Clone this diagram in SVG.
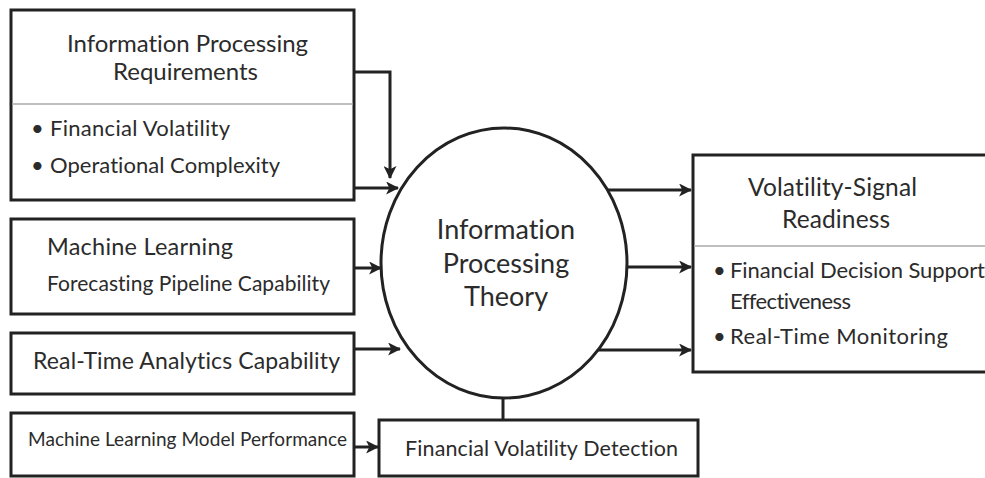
<svg xmlns="http://www.w3.org/2000/svg" width="985" height="478" viewBox="0 0 985 478">
  <defs>
    <marker id="arrow" viewBox="0 0 12 12" refX="11" refY="6" markerWidth="13" markerHeight="13" markerUnits="userSpaceOnUse" orient="auto">
      <path d="M0,0 L12,6 L0,12 L3,6 Z" fill="#222"/>
    </marker>
    <style>
      .box { fill: #fff; stroke: #222; stroke-width: 3; }
      .div { stroke: #aaa; stroke-width: 1.5; }
      .conn { fill: none; stroke: #222; stroke-width: 3; }
      .arr { fill: none; stroke: #222; stroke-width: 3; marker-end: url(#arrow); }
      text { font-family: Lato, "Liberation Sans", sans-serif; fill: #2b2b2b; font-variant-ligatures: none; }
      .c { text-anchor: middle; }
    </style>
  </defs>
  <rect width="985" height="478" fill="#fff"/>

  <g id="connectors">
    <path class="arr" d="M354,72 H390 V178"/>
    <path class="arr" d="M354,188 H398"/>
    <path class="arr" d="M354,268 H381"/>
    <path class="arr" d="M354,349 H400"/>
    <path class="arr" d="M354,447 H378"/>
    <path class="conn" d="M503,397 V420"/>
    <path class="arr" d="M606,190 H691"/>
    <path class="arr" d="M627,267 H691"/>
    <path class="arr" d="M598,350 H691"/>
  </g>

  <g id="info-requirements">
    <rect class="box" x="11" y="10" width="343" height="190"/>
    <line class="div" x1="12" y1="104" x2="353" y2="104"/>
    <g font-size="24">
      <text x="67" y="52" textLength="241">Information Processing</text>
      <text x="113" y="80" textLength="145">Requirements</text>
    </g>
    <g font-size="22">
      <text x="31" y="136">•</text>
      <text x="50" y="136" textLength="180">Financial Volatility</text>
      <text x="31" y="173">•</text>
      <text x="50" y="173" textLength="230">Operational Complexity</text>
    </g>
  </g>

  <g id="ml-pipeline">
    <rect class="box" x="11" y="219" width="343" height="95"/>
    <text x="47" y="255" font-size="23.5" textLength="186">Machine Learning</text>
    <text x="47" y="291" font-size="21" textLength="283">Forecasting Pipeline Capability</text>
  </g>

  <g id="realtime-analytics">
    <rect class="box" x="11" y="333" width="343" height="61"/>
    <text x="33" y="369" font-size="23" textLength="307">Real-Time Analytics Capability</text>
  </g>

  <g id="ml-performance">
    <rect class="box" x="11" y="413" width="343" height="63"/>
    <text x="28" y="446" font-size="19" textLength="319">Machine Learning Model Performance</text>
  </g>

  <g id="ipt">
    <ellipse class="box" cx="504" cy="263" rx="123" ry="135"/>
    <g font-size="27">
      <text class="c" x="506" y="239">Information</text>
      <text class="c" x="506" y="273">Processing</text>
      <text class="c" x="506" y="306">Theory</text>
    </g>
  </g>

  <g id="volatility-detection">
    <rect class="box" x="379" y="420" width="319" height="56"/>
    <text x="405" y="456" font-size="21.5" textLength="273">Financial Volatility Detection</text>
  </g>

  <g id="signal-readiness">
    <rect class="box" x="693" y="155" width="300" height="217"/>
    <line class="div" x1="694" y1="246" x2="985" y2="246"/>
    <g font-size="24.5">
      <text x="748" y="196" textLength="169">Volatility-Signal</text>
      <text x="782" y="228" textLength="108">Readiness</text>
    </g>
    <g font-size="22">
      <text x="713" y="278">•</text>
      <text x="730" y="278" textLength="255">Financial Decision Support</text>
      <text x="730" y="309" textLength="121">Effectiveness</text>
      <text x="713" y="344">•</text>
      <text x="730" y="344" textLength="218">Real-Time Monitoring</text>
    </g>
  </g>
</svg>
